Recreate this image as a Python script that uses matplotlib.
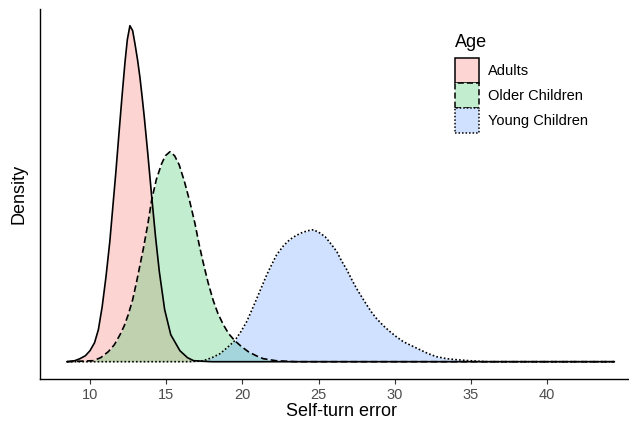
import matplotlib
matplotlib.use("Agg")
import matplotlib.pyplot as plt
from matplotlib.patches import Patch

plt.rcParams['font.family'] = ['Liberation Sans', 'DejaVu Sans']

# densities (arbitrary density units)
adults_x = [8.49, 9.0, 9.34, 9.7, 10.0, 10.3, 10.55, 10.8, 11.05, 11.3, 11.5, 11.7,
            11.9, 12.1, 12.3, 12.45, 12.62, 12.8, 12.95, 13.12, 13.28, 13.42, 13.56,
            13.8, 14.05, 14.3, 14.55, 14.9, 15.3, 15.9, 16.4, 16.8, 18.0, 44.4]
adults_d = [0, 0.001, 0.003, 0.006, 0.011, 0.019, 0.032, 0.055, 0.085, 0.120, 0.155,
            0.190, 0.228, 0.265, 0.300, 0.322, 0.336, 0.331, 0.318, 0.302, 0.284,
            0.265, 0.245, 0.207, 0.165, 0.125, 0.090, 0.052, 0.027, 0.011, 0.004,
            0.001, 0.0, 0.0]

older_x = [8.49, 10.2, 10.7, 11.2, 11.6, 11.97, 12.25, 12.51, 12.8, 13.06, 13.5,
           13.8, 14.05, 14.35, 14.7, 14.95, 15.25, 15.55, 15.85, 16.2, 16.55, 16.89,
           17.15, 17.43, 17.75, 18.09, 18.4, 18.75, 19.1, 19.5, 19.95, 20.39, 20.9,
           21.37, 22.2, 23.5, 44.4]
older_d = [0, 0.001, 0.004, 0.010, 0.017, 0.027, 0.036, 0.047, 0.062, 0.080, 0.113,
           0.138, 0.162, 0.182, 0.198, 0.206, 0.210, 0.206, 0.197, 0.180, 0.160, 0.138,
           0.118, 0.099, 0.079, 0.061, 0.048, 0.037, 0.028, 0.021, 0.015, 0.010, 0.006,
           0.003, 0.001, 0.0, 0.0]

young_x = [8.49, 16.5, 17.43, 18.0, 18.53, 19.0, 19.5, 19.9, 20.28, 20.6, 20.94,
           21.27, 21.6, 21.92, 22.25, 22.7, 23.1, 23.5, 23.9, 24.3, 24.66, 25.05,
           25.43, 25.8, 26.2, 26.5, 26.85, 27.18, 27.5, 27.82, 28.15, 28.45, 28.81,
           29.25, 29.69, 30.1, 30.56, 31.1, 31.65, 32.2, 32.74, 33.4, 34.06, 34.9,
           36.0, 44.4]
young_d = [0, 0.0, 0.001, 0.004, 0.008, 0.014, 0.021, 0.030, 0.040, 0.051, 0.063,
           0.075, 0.087, 0.097, 0.107, 0.116, 0.122, 0.126, 0.129, 0.131, 0.132, 0.129,
           0.125, 0.118, 0.110, 0.101, 0.092, 0.082, 0.073, 0.065, 0.057, 0.050, 0.043,
           0.036, 0.030, 0.025, 0.020, 0.016, 0.012, 0.008, 0.005, 0.003, 0.002, 0.001,
           0.0, 0.0]

groups = ["Adults", "Older Children", "Young Children"]
colors = ["#F8766D", "#35C860", "#619CFF"]
styles = ["-", (0, (4, 2)), (0, (1, 1.3))]
xs = [adults_x, older_x, young_x]
ds = [adults_d, older_d, young_d]

fig = plt.figure(figsize=(6.29, 4.21), dpi=100)
ax = fig.add_axes([40 / 629, 42.5 / 421, 602 / 629, 369.5 / 421])

for x, d, c, ls in zip(xs, ds, colors, styles):
    ax.fill_between(x, 0, d, color=c, alpha=0.3, linewidth=0)
    ax.plot(x, d, color="black", linestyle=ls, linewidth=1.2,
            solid_joinstyle="round", dash_joinstyle="round")

ax.set_xlim(6.72, 46.22)
ax.set_ylim(-0.0168, 0.3527)
ax.set_xticks([10, 15, 20, 25, 30, 35, 40])
ax.set_yticks([])
ax.tick_params(axis='x', colors="#333333", labelcolor="#4D4D4D", labelsize=10.5,
               length=3.5, width=0.8, pad=3)
for s in ["top", "right"]:
    ax.spines[s].set_visible(False)
for s in ["left", "bottom"]:
    ax.spines[s].set_linewidth(1.0)
    ax.spines[s].set_color("black")

ax.set_xlabel("Self-turn error", fontsize=13, labelpad=1)
ax.set_ylabel("Density", fontsize=13, labelpad=9)

fills = ["#FDD6D3", "#C2EECF", "#D0E1FF"]
handles = [Patch(facecolor=f, edgecolor="black", linestyle=ls, linewidth=1.1, label=g)
           for g, f, ls in zip(groups, fills, styles)]
leg = ax.legend(handles=handles, title="Age", loc="upper left",
                bbox_to_anchor=(455 / 629, 1 - 34 / 421), bbox_transform=fig.transFigure,
                frameon=False, fontsize=10.5, title_fontsize=13,
                handlelength=1.65, handleheight=2.25, labelspacing=0.0,
                handletextpad=0.6, borderpad=0, borderaxespad=0)
leg._legend_box.align = "left"
leg._legend_box.sep = 5

fig.savefig("out.png", dpi=100)
